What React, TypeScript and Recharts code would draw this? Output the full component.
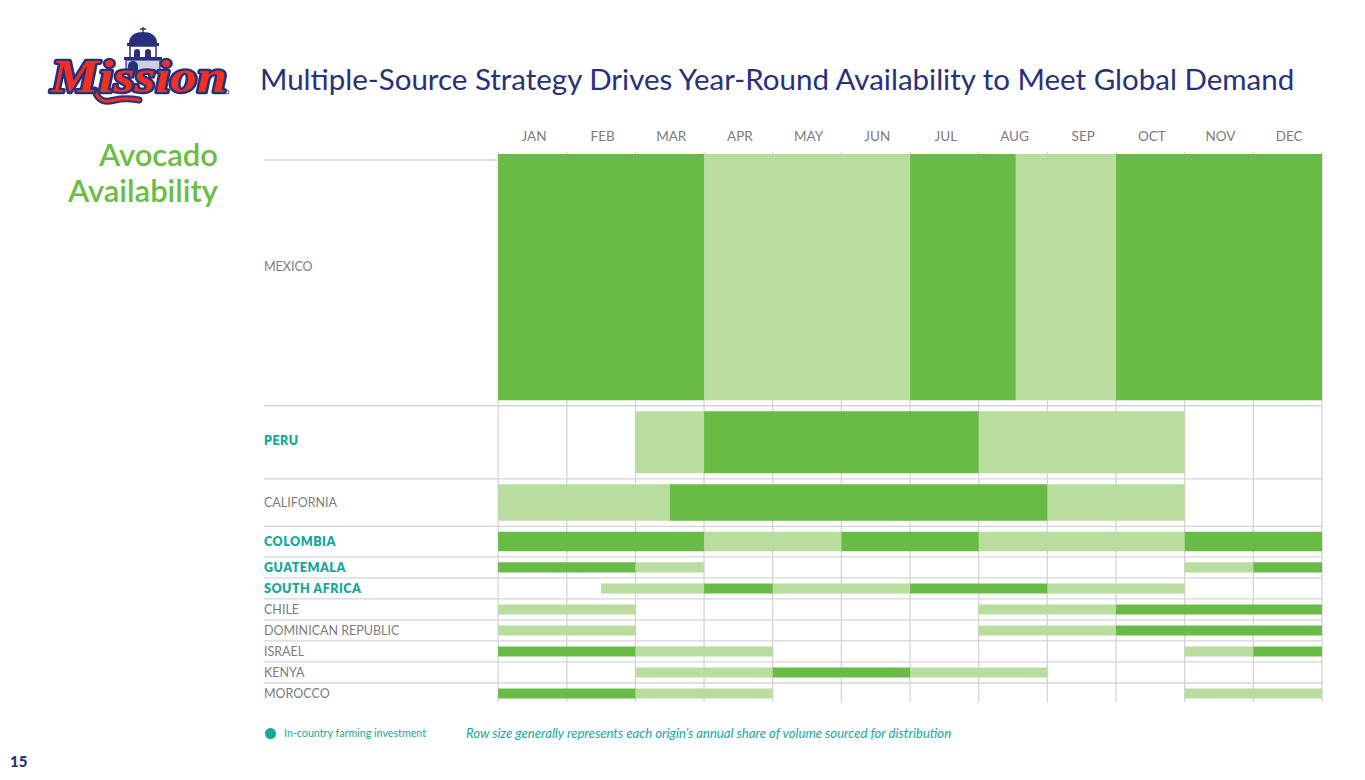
import { ComposedChart, Area, XAxis, YAxis, CartesianGrid, ReferenceLine } from 'recharts';

const MONTHS = ['JAN', 'FEB', 'MAR', 'APR', 'MAY', 'JUN', 'JUL', 'AUG', 'SEP', 'OCT', 'NOV', 'DEC'];
const ORIGINS = ['MEXICO', 'PERU', 'CALIFORNIA', 'COLOMBIA', 'GUATEMALA', 'SOUTH AFRICA', 'CHILE', 'DOMINICAN REPUBLIC', 'ISRAEL', 'KENYA', 'MOROCCO'];
const FARMING = ['PERU', 'COLOMBIA', 'GUATEMALA', 'SOUTH AFRICA'];
// row size
const ROW_SIZE = [246, 62, 36.5, 19.5, 10, 10, 10, 10, 10, 10, 10];

// [from month, to month] per origin
const PEAK = [
  [[0, 3], [6, 7.54], [9, 12]],
  [[3, 7]],
  [[2.5, 8]],
  [[0, 3], [5, 7], [10, 12]],
  [[0, 2], [11, 12]],
  [[3, 4], [6, 8]],
  [[9, 12]],
  [[9, 12]],
  [[0, 2], [11, 12]],
  [[4, 6]],
  [[0, 2]],
];
const LOW = [
  [[3, 6], [7.54, 9]],
  [[2, 3], [7, 10]],
  [[0, 2.5], [8, 10]],
  [[3, 5], [7, 10]],
  [[2, 3], [10, 11]],
  [[1.5, 3], [4, 6], [8, 10]],
  [[0, 2], [7, 9]],
  [[0, 2], [7, 9]],
  [[2, 4], [10, 11]],
  [[2, 4], [6, 8]],
  [[2, 4], [10, 12]],
];

const DARK = '#68bb45';
const LIGHT = '#b9dc9f';
const RULE = '#d5d3d8';
const TEAL = '#14a89b';
const NAVY = '#28307c';
const FONT = 'Lato, sans-serif';

const GAP = 5.5;
const X_MIN = -3.41; // room for the row labels, the horizontal rules run under them
const monthEdges = MONTHS.map((_, i) => i).concat(12);
const monthMiddles = MONTHS.map((_, i) => i + 0.5);

const rowTops: number[] = [];
ROW_SIZE.reduce((top, size, i) => {
  rowTops[i] = top;
  return top + size + GAP * 2;
}, 0);
const rowCenter = (i: number) => rowTops[i] + GAP + ROW_SIZE[i] / 2;

// one series per block: two points with a [top, bottom] range
const segment = (i: number, s: number[]) => {
  const range = [rowTops[i] + GAP, rowTops[i] + GAP + ROW_SIZE[i]];
  return [{ month: s[0], range }, { month: s[1], range }];
};

function RowLabel({ y, payload }: any) {
  const i = rowTops.findIndex((_, k) => rowCenter(k) === payload.value);
  const name = ORIGINS[i];
  const farm = FARMING.includes(name);
  const shift = name === 'MEXICO' ? -11 : name === 'PERU' ? -2 : 0;
  return (
    <text x={264} y={y + shift} dy={4.5} textAnchor="start" fontFamily={FONT} fontSize={12.5} letterSpacing={farm ? 0.5 : 0}
      fontWeight={farm ? 800 : 400} fill={farm ? TEAL : '#7c7c7c'}>
      {name}
    </text>
  );
}

function Logo() {
  return (
    <svg width={200} height={90} viewBox="0 0 200 90" style={{ position: 'absolute', left: 40, top: 22 }}>
      <path d="M103 5v6M100 7h6" stroke={NAVY} strokeWidth={1.4} />
      <path d="M89 21c0-8 7-11 14-11s14 3 14 11z" fill={NAVY} />
      <rect x={87} y={21} width={32} height={3} fill={NAVY} />
      <rect x={90} y={24} width={26} height={12} fill="#fff" stroke={NAVY} strokeWidth={1.5} />
      <path d="M94 36v-6a3 3 0 0 1 6 0v6zM105 36v-6a3 3 0 0 1 6 0v6z" fill={NAVY} />
      <rect x={84} y={35} width={38} height={3} fill={NAVY} />
      <rect x={86} y={38} width={34} height={12} fill="#cdd0e4" stroke={NAVY} strokeWidth={1.2} />
      <path d="M88 50v-6a5 5 0 0 1 10 0v6z" fill={NAVY} />
      <path d="M55 68c3 13 12 12 20 10s18-1 24 0" fill="none" stroke={NAVY} strokeWidth={7} strokeLinecap="round" />
      <path d="M55 68c3 13 12 12 20 10s18-1 24 0" fill="none" stroke="#ee3124" strokeWidth={3} strokeLinecap="round" />
      <text x={11} y={70} fontFamily="Liberation Serif" fontWeight={700} fontStyle="italic" fontSize={46} textLength={176} lengthAdjust="spacingAndGlyphs"
        fill="#ee3124" stroke={NAVY} strokeWidth={4.5} strokeLinejoin="round" style={{ paintOrder: 'stroke' }}>
        Mission
      </text>
      <circle cx={187} cy={70} r={2} fill="none" stroke={NAVY} strokeWidth={0.8} />
    </svg>
  );
}

export default function App() {
  const yMin = 3.5;
  const yMax = rowTops[rowTops.length - 1] + GAP * 2 + ROW_SIZE[ROW_SIZE.length - 1] - 2;
  return (
    <div style={{ position: 'absolute', left: 0, top: 0, width: 1365, height: 780, background: '#fff', overflow: 'hidden', fontFamily: FONT }}>
      <ComposedChart width={1365} height={780} margin={{ top: 132, right: 43, bottom: 78, left: 263 }}>
        <XAxis xAxisId="grid" dataKey="month" type="number" domain={[X_MIN, 12]} ticks={monthEdges} allowDataOverflow hide />
        <XAxis xAxisId="months" dataKey="month" type="number" orientation="top" height={20} domain={[X_MIN, 12]} ticks={monthMiddles} allowDataOverflow interval={0}
          tickFormatter={(v: number) => MONTHS[Math.floor(v)]} axisLine={false} tickLine={false} tickMargin={5}
          tick={{ fontFamily: FONT, fontSize: 13.5, fill: '#7c7c7c', dx: 1.5 }} />
        <YAxis type="number" reversed width={1} domain={[yMin, yMax]} ticks={ORIGINS.map((_, i) => rowCenter(i))} allowDataOverflow interval={0}
          axisLine={false} tickLine={false} tick={<RowLabel />} />
        <CartesianGrid xAxisId="grid" horizontal={false} syncWithTicks stroke={RULE} strokeWidth={1.3} />
        {rowTops.slice(1).map((top) => (
          <ReferenceLine key={top} xAxisId="grid" y={top} stroke={RULE} strokeWidth={1.3} />
        ))}
        <ReferenceLine xAxisId="grid" stroke={RULE} strokeWidth={1.3} segment={[{ x: X_MIN, y: rowTops[0] + 11.5 }, { x: 0, y: rowTops[0] + 11.5 }]} />
        {ORIGINS.map((name, i) =>
          [...LOW[i].map((s) => ({ s, fill: LIGHT })), ...PEAK[i].map((s) => ({ s, fill: DARK }))].map(({ s, fill }) => (
            <Area key={name + s[0]} xAxisId="grid" data={segment(i, s)} dataKey="range" type="linear" stroke="none" fill={fill} fillOpacity={1}
              dot={false} activeDot={false} isAnimationActive={false} />
          )),
        )}
      </ComposedChart>

      <Logo />
      <div style={{ position: 'absolute', left: 260, top: 60, fontSize: 29.5, color: NAVY, whiteSpace: 'nowrap', lineHeight: '38px' }}>
        Multiple-Source Strategy Drives Year-Round Availability to Meet Global Demand
      </div>
      <div style={{ position: 'absolute', right: 1147, top: 136, fontSize: 31, color: '#69bd45', textAlign: 'right', lineHeight: '36px', fontWeight: 600 }}>
        Avocado<br />Availability
      </div>
      <div style={{ position: 'absolute', left: 265, top: 728, width: 11, height: 11, borderRadius: '50%', background: TEAL }} />
      <div style={{ position: 'absolute', left: 284, top: 726, fontSize: 10.7, color: TEAL, whiteSpace: 'nowrap', lineHeight: '14px' }}>
        In-country farming investment
      </div>
      <div style={{ position: 'absolute', left: 466, top: 725, fontSize: 13.13, fontStyle: 'italic', color: TEAL, whiteSpace: 'nowrap', lineHeight: '16px' }}>
        Row size generally represents each origin’s annual share of volume sourced for distribution
      </div>
      <div style={{ position: 'absolute', left: 10, top: 752, fontSize: 15, fontWeight: 900, color: NAVY, lineHeight: '18px' }}>15</div>
    </div>
  );
}
